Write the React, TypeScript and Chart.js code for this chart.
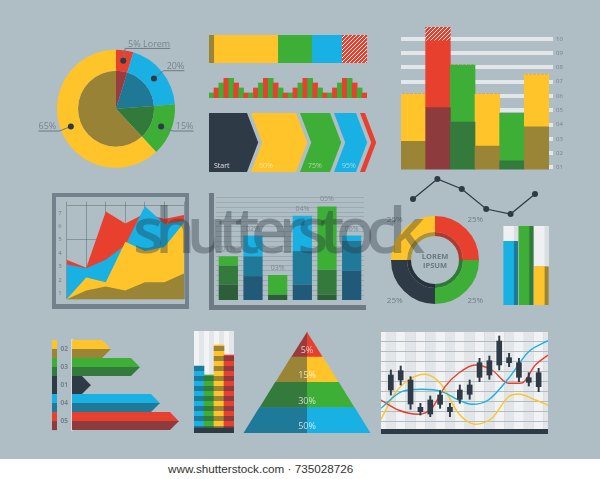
import React, { useEffect, useRef } from "react";
import { Chart, registerables } from "chart.js";

Chart.register(...registerables);

// ---------- palette ----------
const BG = "#AFBDC4";
const YELLOW = "#FFC42A";
const OLIVE = "#9A8436";
const RED = "#E8402E";
const DARKRED = "#8E3B3E";
const BLUE = "#19B1E3";
const DARKBLUE = "#1F7A9A";
const NAVY = "#215A78";
const GREEN = "#3DAE36";
const DARKGREEN = "#357A3D";
const DEEPGREEN = "#2C5E38";
const DARK = "#2E3A46";
const LIGHT = "#EEF0F1";
const FONT = "'Open Sans', 'DejaVu Sans', sans-serif";

// ---------- data ----------
const pieLabels = ["5% Lorem", "20%", "15%", "65%"];
const pieValues = [5, 20, 15, 65];

const stripValues = [3, 40.5, 21.5, 19, 16];

const histValues = [
  1, 2, 3, 4, 4, 3, 2, 1,
  1, 2, 3, 4, 4, 3, 2, 1,
  1, 2, 3, 4, 4, 3, 2, 1,
  1, 2, 3, 4, 4, 3, 2, 1,
];

const chevronLabels = ["Start", "50%", "75%", "95%", ""];
const chevronStart = [4, 46, 95, 129, 155];
const chevronEnd = [42, 91, 125, 151, 160];

const colTickLabels = ["01", "02", "03", "04", "05", "06", "07", "08", "09", "10"];
const colTickValues = [1, 2, 3, 4, 5, 6, 7, 8, 9, 10];
const colLower = [2.83, 5.19, 4.18, 2.49, 1.47, 3.84];
const colUpper = [6.14, 9.86, 8.17, 6.14, 4.79, 7.5];
const colHatch = [0, 10.81, 0, 0, 0, 0];

const lineValues = [4, 9, 6.5, 1.5, 0.25, 5.25];

const donutLabels = ["25%", "25%", "25%", "25%"];
const donutValues = [25, 25, 25, 25];
const donutCenter = ["LOREM", "IPSUM"];

const triValues = [81, 100, 49];

const areaTicks = [1, 2, 3, 4, 5, 6, 7];
const areaLabels = ["a", "b", "c", "d", "e", "f", "g"];
const areaRed = [3.5, 2.9, 7.1, 6.2, 6.95, 6.55, 6.84];
const areaBlue = [3.14, 2.86, 3.5, 4.6, 7.5, 6.16, 6.39];
const areaYellow = [0.55, 2.18, 1.82, 4.84, 4.16, 4.45, 6.27];
const areaOlive = [0.55, 1.2, 1.5, 1.2, 1.82, 1.82, 2.48];

const mbLabels = ["01%", "02%", "03%", "04%", "05%", "06%"];
const mbLow = [15, 23, 5, 15, 5, 28];
const mbMid = [33, 42, 5, 47, 29, 57];
const mbTop = [42, 62, 24, 81, 90, 62];

const arrowLabels = ["02", "03", "01", "04", "05"];
const arrowValues = [39, 68, 19, 88, 107];

const segValues = [62, 53, 83, 73];
const segBase = [5, 5, 5, 5];

const pyramidLabels = ["5%", "15%", "30%", "50%"];
const pyramidWidths = [1, 2, 3, 4];

const candleX = [1, 2, 3, 4, 5, 6, 7, 8, 9, 10, 11, 12, 13, 14, 15, 16];
const candleWickLow = [3.6, 4.6, 2.17, 1.6, 1.43, 2.27, 1.43, 2.77, 3.17, 4.93, 5.17, 6.1, 6.43, 4.93, 4.5, 3.93];
const candleWickHigh = [6.1, 6.5, 5.43, 2.77, 3.5, 4.03, 2.77, 4.6, 5.1, 7.27, 7.5, 9.5, 7.77, 7.27, 5.83, 6.27];
const candleBodyLow = [4.1, 5.1, 2.7, 1.93, 1.7, 2.67, 1.93, 3.17, 3.67, 5.37, 5.6, 6.6, 6.83, 5.37, 4.87, 4.43];
const candleBodyHigh = [5.6, 6.03, 5.1, 2.37, 3.1, 3.6, 2.37, 4.1, 4.6, 6.83, 7.03, 9.0, 7.33, 6.83, 5.33, 5.83];
const candleGrid = [1, 2, 3, 4, 5, 6, 7, 8, 9, 10];

const blueX = [0, 2.1, 4.14, 6.17, 7.86, 9.22, 10.9, 12.95, 14.98, 16.95];
const blueY = [2.27, 3.93, 4.17, 3.93, 3.1, 2.67, 3.1, 5.27, 7.93, 9.03];
const redX = [0, 1.76, 3.8, 5.15, 6.5, 7.86, 9.56, 11.25, 12.95, 14.3, 15.66, 16.95];
const redY = [3.1, 2.1, 1.67, 2.27, 4.43, 5.77, 6.6, 6.1, 4.77, 4.8, 6.6, 7.6];
const yellowX = [0, 1.42, 2.78, 4.47, 6.17, 7.86, 9.56, 11.25, 12.95, 13.97, 15.66, 16.95];
const yellowY = [1.17, 3.77, 5.1, 5.67, 4.6, 1.77, 0.67, 1.27, 3.43, 3.7, 3.1, 2.6];

// ---------- helpers ----------
const noPlug = { legend: { display: false }, tooltip: { enabled: false } };
const baseOpts = { responsive: false, animation: false, events: [] as any[] };

function makeTile(w: number, h: number, draw: (g: CanvasRenderingContext2D) => void) {
  const c = document.createElement("canvas");
  c.width = w;
  c.height = h;
  const g = c.getContext("2d") as CanvasRenderingContext2D;
  draw(g);
  return g.createPattern(c, "repeat") as CanvasPattern;
}
function hatch(color: string) {
  return makeTile(4, 4, (g) => {
    g.fillStyle = color;
    g.fillRect(0, 0, 4, 4);
    g.strokeStyle = "rgba(255,255,255,0.95)";
    g.lineWidth = 1;
    g.beginPath();
    g.moveTo(0, 4); g.lineTo(4, 0);
    g.moveTo(-1, 1); g.lineTo(1, -1);
    g.moveTo(3, 5); g.lineTo(5, 3);
    g.stroke();
  });
}
function hStripes(a: string, b: string) {
  return makeTile(1, 10, (g) => {
    g.fillStyle = a; g.fillRect(0, 0, 1, 5);
    g.fillStyle = b; g.fillRect(0, 5, 1, 5);
  });
}
function vStripes(a: string, b: string) {
  return makeTile(10, 1, (g) => {
    g.fillStyle = a; g.fillRect(0, 0, 5, 1);
    g.fillStyle = b; g.fillRect(5, 0, 5, 1);
  });
}

// ---------- chart configs ----------
function pieConfig(): any {
  const plugin = {
    id: "pieLabels",
    afterDatasetsDraw(chart: any) {
      const ctx = chart.ctx;
      const meta = chart.getDatasetMeta(0);
      meta.data.forEach((arc: any, i: number) => {
        const p = arc.tooltipPosition(true);
        const cx = arc.x, cy = arc.y;
        const dx = p.x - cx, dy = p.y - cy;
        const len = Math.hypot(dx, dy) || 1;
        const ex = p.x + (dx / len) * 12.5;
        const ey = p.y + (dy / len) * 12.5;
        ctx.save();
        ctx.font = `9px ${FONT}`;
        const text = pieLabels[i];
        const tw = ctx.measureText(text).width;
        const right = ex >= cx;
        const endX = right ? ex + tw + 3 : ex - tw - 3;
        ctx.strokeStyle = "#6C7B85";
        ctx.lineWidth = 1;
        ctx.beginPath();
        ctx.moveTo(p.x, p.y);
        ctx.lineTo(ex, ey);
        ctx.lineTo(endX, ey);
        ctx.stroke();
        ctx.fillStyle = "#76868F";
        ctx.textAlign = right ? "right" : "left";
        ctx.textBaseline = "alphabetic";
        ctx.fillText(text, endX, ey - 1.8);
        ctx.fillStyle = DARK;
        ctx.beginPath();
        ctx.arc(p.x, p.y, 3, 0, Math.PI * 2);
        ctx.fill();
        ctx.restore();
      });
    },
  };
  return {
    type: "doughnut",
    data: {
      labels: pieLabels,
      datasets: [
        { data: pieValues, backgroundColor: [RED, BLUE, GREEN, YELLOW], borderWidth: 0, weight: 21 },
        { data: pieValues, backgroundColor: ["#9A3B3D", "#1F7896", "#327A3A", "#988236"], borderWidth: 0, weight: 38 },
      ],
    },
    options: {
      ...baseOpts,
      cutout: 0,
      layout: { padding: { left: 27, right: 35, top: 24.5, bottom: 17 } },
      plugins: noPlug,
    },
    plugins: [plugin],
  };
}

function stripConfig(): any {
  const colors = [OLIVE, YELLOW, GREEN, BLUE, hatch(RED)];
  return {
    type: "bar",
    data: {
      labels: [""],
      datasets: stripValues.map((v, i) => ({ data: [v], backgroundColor: colors[i], borderWidth: 0 })),
    },
    options: {
      ...baseOpts,
      indexAxis: "y",
      datasets: { bar: { barPercentage: 1, categoryPercentage: 1 } },
      scales: {
        x: { display: false, stacked: true, min: 0, max: 100 },
        y: { display: false, stacked: true },
      },
      plugins: noPlug,
    },
  };
}

function histConfig(): any {
  return {
    type: "bar",
    data: {
      labels: histValues.map((_, i) => String(i)),
      datasets: [
        {
          data: histValues,
          backgroundColor: histValues.map((_, i) => (i % 2 === 0 ? GREEN : RED)),
          borderWidth: 0,
          barPercentage: 1,
          categoryPercentage: 1,
        },
      ],
    },
    options: {
      ...baseOpts,
      scales: { x: { display: false }, y: { display: false, min: 0, max: 4 } },
      plugins: noPlug,
    },
  };
}

function chevronConfig(): any {
  const colors = [DARK, YELLOW, GREEN, BLUE, RED];
  const plugin = {
    id: "chevrons",
    afterDatasetsDraw(chart: any) {
      const ctx = chart.ctx;
      chart.data.datasets.forEach((_: any, di: number) => {
        const el = chart.getDatasetMeta(di).data[0];
        const { x, y, base, height } = el.getProps(["x", "y", "base", "height"], true);
        const L = Math.min(x, base), R = Math.max(x, base);
        const top = y - height / 2, bot = y + height / 2;
        const d = height * 0.19;
        ctx.save();
        ctx.fillStyle = colors[di];
        ctx.beginPath();
        ctx.moveTo(L, top);
        ctx.lineTo(R, top);
        ctx.lineTo(R + d, y);
        ctx.lineTo(R, bot);
        ctx.lineTo(L, bot);
        if (di > 0) ctx.lineTo(L + d, y);
        ctx.closePath();
        ctx.fill();
        const label = chevronLabels[di];
        if (label) {
          ctx.font = `7px ${FONT}`;
          ctx.fillStyle = di === 0 ? "rgba(255,255,255,0.85)" : "rgba(255,255,255,0.55)";
          ctx.textAlign = "left";
          ctx.textBaseline = "alphabetic";
          ctx.fillText(label, di === 0 ? L + 5 : L + 8, bot - 4);
        }
        ctx.restore();
      });
    },
  };
  return {
    type: "bar",
    data: {
      labels: [""],
      datasets: chevronStart.map((s, i) => ({
        data: [[s, chevronEnd[i]]],
        backgroundColor: "rgba(0,0,0,0)",
        borderWidth: 0,
      })),
    },
    options: {
      ...baseOpts,
      indexAxis: "y",
      datasets: { bar: { barPercentage: 1, categoryPercentage: 1, grouped: false } },
      scales: { x: { display: false, min: 0, max: 175 }, y: { display: false } },
      plugins: noPlug,
    },
    plugins: [plugin],
  };
}

function columnsConfig(): any {
  const lowColors = [OLIVE, DARKRED, DARKGREEN, OLIVE, DARKGREEN, OLIVE];
  const upColors = [YELLOW, RED, GREEN, YELLOW, GREEN, YELLOW];
  const pat = hatch(RED);
  return {
    type: "bar",
    data: {
      labels: colLower.map((_, i) => String(i)),
      datasets: [
        { data: colLower, backgroundColor: lowColors, borderWidth: 0 },
        { data: colUpper.map((v, i) => v - colLower[i]), backgroundColor: upColors, borderWidth: 0 },
        { data: colHatch.map((v, i) => (v > 0 ? v - colUpper[i] : 0)), backgroundColor: pat, borderWidth: 0 },
      ],
    },
    options: {
      ...baseOpts,
      layout: { padding: { top: 4, bottom: 4 } },
      datasets: { bar: { barPercentage: 1, categoryPercentage: 1 } },
      scales: {
        x: { display: false, stacked: true },
        y: {
          position: "right",
          stacked: true,
          min: 0.865,
          max: 11.28,
          afterBuildTicks: (s: any) => {
            s.ticks = colTickValues.map((v) => ({ value: v }));
          },
          afterFit: (s: any) => {
            s.width = 22;
          },
          border: { display: false },
          grid: { color: "#E3E7EA", lineWidth: 4, tickLength: 4, drawTicks: true },
          ticks: {
            autoSkip: false,
            padding: 3,
            color: "#76848D",
            font: { size: 6, family: FONT },
            callback: (_v: any, i: number) => colTickLabels[i],
          },
        },
      },
      plugins: noPlug,
    },
  };
}

function lineConfig(): any {
  return {
    type: "line",
    data: {
      labels: lineValues.map((_, i) => String(i)),
      datasets: [
        {
          data: lineValues,
          borderColor: DARK,
          borderWidth: 1.2,
          pointRadius: 3,
          pointBackgroundColor: DARK,
          pointBorderWidth: 0,
          clip: false,
          tension: 0,
        },
      ],
    },
    options: {
      ...baseOpts,
      layout: { padding: { left: 8, right: 8, top: 5, bottom: 5 } },
      scales: { x: { display: false }, y: { display: false, min: 0, max: 10 } },
      plugins: noPlug,
    },
  };
}

function donutConfig(): any {
  const plugin = {
    id: "donutLabels",
    afterDatasetsDraw(chart: any) {
      const ctx = chart.ctx;
      const meta = chart.getDatasetMeta(0);
      ctx.save();
      ctx.font = `8px ${FONT}`;
      ctx.fillStyle = "#6E7D87";
      ctx.textAlign = "center";
      ctx.textBaseline = "middle";
      let cx = 0, cy = 0;
      meta.data.forEach((arc: any, i: number) => {
        const p = arc.getProps(["x", "y", "startAngle", "endAngle", "outerRadius"], true);
        const mid = (p.startAngle + p.endAngle) / 2;
        const r = p.outerRadius + 13;
        cx = p.x; cy = p.y;
        ctx.fillText(donutLabels[i], p.x + Math.cos(mid) * r, p.y + Math.sin(mid) * r);
      });
      ctx.font = `bold 7.5px ${FONT}`;
      ctx.fillStyle = "#6A7983";
      ctx.fillText(donutCenter[0], cx, cy - 3);
      ctx.fillText(donutCenter[1], cx, cy + 5.5);
      ctx.restore();
    },
  };
  return {
    type: "doughnut",
    data: {
      labels: donutLabels,
      datasets: [
        { data: donutValues, backgroundColor: [RED, GREEN, DARK, YELLOW], borderWidth: 0, weight: 16 },
        { data: donutValues, backgroundColor: ["#AE3A30", "#2F7B35", "#27323C", "#AE9232"], borderWidth: 0, weight: 4 },
      ],
    },
    options: {
      ...baseOpts,
      cutout: "54.5%",
      layout: { padding: { left: 11, right: 11, top: 4, bottom: 8 } },
      plugins: noPlug,
    },
    plugins: [plugin],
  };
}

function triConfig(): any {
  const main = [BLUE, GREEN, YELLOW];
  const dark = [DARKBLUE, DARKGREEN, OLIVE];
  const plugin = {
    id: "triStrips",
    afterDatasetsDraw(chart: any) {
      const ctx = chart.ctx;
      [0, 1].forEach((di) => {
        chart.getDatasetMeta(di).data.forEach((el: any, i: number) => {
          const { x, y, base, width } = el.getProps(["x", "y", "base", "width"], true);
          ctx.fillStyle = di === 0 ? dark[i] : "#DADEE1";
          ctx.fillRect(x + width / 2 - 4, Math.min(y, base), 4, Math.abs(base - y));
        });
      });
    },
  };
  return {
    type: "bar",
    data: {
      labels: ["a", "b", "c"],
      datasets: [
        { data: triValues, backgroundColor: main, borderWidth: 0 },
        { data: triValues.map((v) => 100 - v), backgroundColor: LIGHT, borderWidth: 0 },
      ],
    },
    options: {
      ...baseOpts,
      datasets: { bar: { barPercentage: 0.95, categoryPercentage: 1 } },
      scales: { x: { display: false, stacked: true }, y: { display: false, stacked: true, min: 0, max: 100 } },
      plugins: noPlug,
    },
    plugins: [plugin],
  };
}

function areaConfig(): any {
  const gridCol = "rgba(84,96,105,0.45)";
  const mk = (data: number[], color: string) => ({
    data,
    backgroundColor: color,
    borderWidth: 0,
    borderColor: color,
    pointRadius: 0,
    fill: "start",
    tension: 0,
  });
  return {
    type: "line",
    data: {
      labels: areaLabels,
      datasets: [mk(areaOlive, OLIVE), mk(areaYellow, YELLOW), mk(areaBlue, BLUE), mk(areaRed, RED)],
    },
    options: {
      ...baseOpts,
      layout: { padding: { top: 4, bottom: 4, right: 1 } },
      scales: {
        x: {
          display: true,
          offset: false,
          z: 1,
          ticks: { display: false },
          grid: { color: gridCol, lineWidth: 1, drawTicks: false },
          border: { display: false },
          afterFit: (s: any) => {
            s.height = 0;
          },
        },
        y: {
          min: 0.54,
          max: 7.84,
          z: 1,
          afterBuildTicks: (s: any) => {
            s.ticks = areaTicks.concat([7.55]).map((v) => ({ value: v }));
          },
          afterFit: (s: any) => {
            s.width = 10.7;
          },
          border: { display: false },
          grid: {
            drawTicks: false,
            color: (c: any) =>
              c.tick && (c.tick.value === 5 || c.tick.value === 7.55) ? gridCol : "rgba(0,0,0,0)",
          },
          ticks: {
            autoSkip: false,
            padding: 5,
            color: "#6F7E88",
            font: { size: 6, family: FONT },
            callback: (v: any) => (Number.isInteger(v) ? String(v) : ""),
          },
        },
      },
      plugins: noPlug,
    },
  };
}

function midBarsConfig(): any {
  const isGreen = mbLabels.map((_, i) => i % 2 === 0);
  const plugin = {
    id: "midLabels",
    afterDatasetsDraw(chart: any) {
      const ctx = chart.ctx;
      ctx.save();
      ctx.font = `7px ${FONT}`;
      ctx.fillStyle = "#7D8A92";
      ctx.textAlign = "center";
      ctx.textBaseline = "alphabetic";
      chart.getDatasetMeta(2).data.forEach((el: any, i: number) => {
        const { x, y } = el.getProps(["x", "y"], true);
        ctx.fillText(mbLabels[i], x, y - 5);
      });
      ctx.restore();
    },
  };
  const gridTicks: number[] = [];
  for (let i = 1; i <= 21; i++) gridTicks.push(i * 4.7);
  return {
    type: "bar",
    data: {
      labels: mbLabels,
      datasets: [
        { data: mbLow, backgroundColor: isGreen.map((g) => (g ? DEEPGREEN : NAVY)), borderWidth: 0 },
        {
          data: mbMid.map((v, i) => v - mbLow[i]),
          backgroundColor: isGreen.map((g) => (g ? DARKGREEN : DARKBLUE)),
          borderWidth: 0,
        },
        {
          data: mbTop.map((v, i) => v - mbMid[i]),
          backgroundColor: isGreen.map((g) => (g ? GREEN : BLUE)),
          borderWidth: 0,
        },
      ],
    },
    options: {
      ...baseOpts,
      layout: { padding: { top: 6 } },
      datasets: { bar: { barPercentage: 0.78, categoryPercentage: 1 } },
      scales: {
        x: { display: false, stacked: true },
        y: {
          stacked: true,
          min: 0,
          max: 100,
          afterBuildTicks: (s: any) => {
            s.ticks = gridTicks.map((v) => ({ value: v }));
          },
          afterFit: (s: any) => {
            s.width = 0;
          },
          ticks: { display: false },
          border: { display: false },
          grid: { drawTicks: false, color: "#97A3AA", lineWidth: 0.8 },
        },
      },
      plugins: noPlug,
    },
    plugins: [plugin],
  };
}

function arrowsConfig(): any {
  const topC = [YELLOW, GREEN, DARK, BLUE, RED];
  const botC = [OLIVE, DARKGREEN, DARK, DARKBLUE, DARKRED];
  const plugin = {
    id: "arrows",
    afterDatasetsDraw(chart: any) {
      const ctx = chart.ctx;
      const area = chart.chartArea;
      chart.getDatasetMeta(0).data.forEach((el: any, i: number) => {
        const { x, y, base, height } = el.getProps(["x", "y", "base", "height"], true);
        const top = y - height / 2, bot = y + height / 2, d = height / 2;
        ctx.fillStyle = topC[i];
        ctx.beginPath();
        ctx.moveTo(base, top);
        ctx.lineTo(x - d, top);
        ctx.lineTo(x, y + 0.3);
        ctx.lineTo(base, y + 0.3);
        ctx.closePath();
        ctx.fill();
        ctx.fillStyle = botC[i];
        ctx.beginPath();
        ctx.moveTo(base, y);
        ctx.lineTo(x, y);
        ctx.lineTo(x - d, bot);
        ctx.lineTo(base, bot);
        ctx.closePath();
        ctx.fill();
        ctx.fillStyle = topC[i];
        ctx.fillRect(area.left - 20, top, 5, height / 2 + 0.3);
        ctx.fillStyle = botC[i];
        ctx.fillRect(area.left - 20, y, 5, height / 2);
      });
    },
  };
  return {
    type: "bar",
    data: {
      labels: arrowLabels,
      datasets: [{ data: arrowValues, backgroundColor: "rgba(0,0,0,0)", borderWidth: 0 }],
    },
    options: {
      ...baseOpts,
      indexAxis: "y",
      layout: { padding: { top: 4, bottom: 4 } },
      datasets: { bar: { barPercentage: 1, categoryPercentage: 1 } },
      scales: {
        x: { display: false, min: 0, max: 113 },
        y: {
          z: 1,
          afterFit: (s: any) => {
            s.width = 32;
          },
          grid: { display: false, drawTicks: false },
          border: { display: true, color: "#D2D8DB", width: 2 },
          ticks: { padding: 4, color: "#75838C", font: { size: 6.5, family: FONT, weight: "bold" } },
        },
      },
      plugins: noPlug,
    },
    plugins: [plugin],
  };
}

function segConfig(): any {
  const pats = [
    hStripes(BLUE, DARKBLUE),
    hStripes(GREEN, DARKGREEN),
    hStripes(YELLOW, OLIVE),
    hStripes(RED, DARKRED),
  ];
  const bgPat = vStripes("#F2F3F4", "#E3E6E8");
  return {
    type: "bar",
    data: {
      labels: ["a", "b", "c", "d"],
      datasets: [
        { data: segBase, backgroundColor: DARK, borderWidth: 0 },
        { data: segValues, backgroundColor: pats, borderWidth: 0 },
        { data: segValues.map((v, i) => 102 - v - segBase[i]), backgroundColor: bgPat, borderWidth: 0 },
      ],
    },
    options: {
      ...baseOpts,
      datasets: { bar: { barPercentage: 1, categoryPercentage: 1 } },
      scales: { x: { display: false, stacked: true }, y: { display: false, stacked: true, min: 0, max: 102 } },
      plugins: noPlug,
    },
  };
}

function pyramidConfig(): any {
  const leftC = ["#9A3A3C", OLIVE, DARKGREEN, DARKBLUE];
  const rightC = [RED, YELLOW, GREEN, BLUE];
  const plugin = {
    id: "pyramid",
    afterDatasetsDraw(chart: any) {
      const ctx = chart.ctx;
      const xs = chart.scales.x;
      const center = xs.getPixelForValue(0);
      [0, 1].forEach((di) => {
        const sign = di === 0 ? -1 : 1;
        chart.getDatasetMeta(di).data.forEach((el: any, i: number) => {
          const { y, height } = el.getProps(["y", "height"], true);
          const prev = i === 0 ? 0 : pyramidWidths[i - 1];
          const topX = xs.getPixelForValue(sign * prev);
          const botX = xs.getPixelForValue(sign * pyramidWidths[i]);
          const top = y - height / 2 - (i > 0 ? 0.4 : 0), bot = y + height / 2;
          ctx.fillStyle = di === 0 ? leftC[i] : rightC[i];
          ctx.beginPath();
          ctx.moveTo(center + (di === 0 ? 0.4 : 0), top);
          ctx.lineTo(topX, top);
          ctx.lineTo(botX, bot);
          ctx.lineTo(center + (di === 0 ? 0.4 : 0), bot);
          ctx.closePath();
          ctx.fill();
        });
      });
      ctx.save();
      ctx.font = `9px ${FONT}`;
      ctx.fillStyle = "rgba(255,255,255,0.72)";
      ctx.textAlign = "center";
      ctx.textBaseline = "middle";
      chart.getDatasetMeta(1).data.forEach((el: any, i: number) => {
        const { y } = el.getProps(["y"], true);
        ctx.fillText(pyramidLabels[i], center, y + 6);
      });
      ctx.restore();
    },
  };
  return {
    type: "bar",
    data: {
      labels: pyramidLabels,
      datasets: [
        { data: pyramidWidths.map((w) => [-w, 0]), backgroundColor: "rgba(0,0,0,0)", borderWidth: 0 },
        { data: pyramidWidths.map((w) => [0, w]), backgroundColor: "rgba(0,0,0,0)", borderWidth: 0 },
      ],
    },
    options: {
      ...baseOpts,
      indexAxis: "y",
      layout: { padding: { left: 3.5, right: 3.5, top: 2, bottom: 2 } },
      datasets: { bar: { barPercentage: 1, categoryPercentage: 1, grouped: false } },
      scales: { x: { display: false, min: -4, max: 4 }, y: { display: false } },
      plugins: noPlug,
    },
    plugins: [plugin],
  };
}

function candleConfig(): any {
  const plugin = {
    id: "stripes",
    beforeDraw(chart: any) {
      const { ctx, chartArea: a } = chart;
      const xs = chart.scales.x;
      ctx.save();
      for (let k = 0; k <= 17; k++) {
        const x0 = Math.max(a.left, xs.getPixelForValue(k - 0.5));
        const x1 = Math.min(a.right, xs.getPixelForValue(k + 0.5));
        if (x1 <= x0) continue;
        ctx.fillStyle = k % 2 === 0 ? "#F1F2F3" : "#E2E6E8";
        ctx.fillRect(x0, a.top, x1 - x0, a.bottom - a.top);
      }
      ctx.restore();
    },
  };
  const curve = (xs: number[], ys: number[], color: string) => ({
    type: "line",
    data: xs.map((x, i) => ({ x, y: ys[i] })),
    borderColor: color,
    borderWidth: 1.4,
    pointRadius: 0,
    fill: false,
    cubicInterpolationMode: "monotone",
    order: 2,
  });
  return {
    type: "bar",
    data: {
      datasets: [
        {
          data: candleX.map((x, i) => ({ x, y: [candleBodyLow[i], candleBodyHigh[i]] })),
          backgroundColor: DARK,
          borderWidth: 0,
          barThickness: 5,
          order: 1,
        },
        {
          data: candleX.map((x, i) => ({ x, y: [candleWickLow[i], candleWickHigh[i]] })),
          backgroundColor: DARK,
          borderWidth: 0,
          barThickness: 1.3,
          order: 1,
        },
        curve(blueX, blueY, BLUE),
        curve(redX, redY, RED),
        curve(yellowX, yellowY, YELLOW),
      ],
    },
    options: {
      ...baseOpts,
      datasets: { bar: { grouped: false } },
      scales: {
        x: { type: "linear", display: false, min: 0, max: 16.95, offset: false, grid: { offset: false } },
        y: {
          min: 0.2,
          max: 10,
          afterBuildTicks: (s: any) => {
            s.ticks = candleGrid.map((v) => ({ value: v }));
          },
          afterFit: (s: any) => {
            s.width = 0;
          },
          ticks: { display: false },
          border: { display: false },
          grid: { drawTicks: false, color: "#B4BCC1", lineWidth: 1 },
        },
      },
      plugins: noPlug,
    },
    plugins: [plugin],
  };
}

// ---------- components ----------
function Panel({ x, y, w, h, make }: { x: number; y: number; w: number; h: number; make: () => any }) {
  const ref = useRef<HTMLCanvasElement | null>(null);
  useEffect(() => {
    if (!ref.current) return;
    const chart = new Chart(ref.current, make());
    return () => chart.destroy();
  }, []);
  return (
    <canvas
      ref={ref}
      width={w}
      height={h}
      style={{ position: "absolute", left: x, top: y, width: w, height: h }}
    />
  );
}

function Block({ x, y, w, h, color }: { x: number; y: number; w: number; h: number; color: string }) {
  return <div style={{ position: "absolute", left: x, top: y, width: w, height: h, background: color }} />;
}

export default function App() {
  return (
    <div
      style={{
        position: "fixed",
        left: 0,
        top: 0,
        width: 600,
        height: 479,
        background: BG,
        overflow: "hidden",
        fontFamily: FONT,
      }}
    >
      {/* area chart frame */}
      <div
        style={{
          position: "absolute",
          left: 52,
          top: 193,
          width: 137,
          height: 116,
          boxSizing: "border-box",
          borderStyle: "solid",
          borderColor: "#72818B",
          borderWidth: "4px 4px 5px 4px",
        }}
      />
      {/* middle bar chart axes */}
      <Block x={209} y={193} w={4.5} h={117} color="#6E7B85" />
      <Block x={209} y={305} w={157} h={4.5} color="#6E7B85" />
      {/* candle base */}
      <Block x={381} y={429} w={167} h={4.5} color={DARK} />

      <Panel x={30} y={25} w={180} h={160} make={pieConfig} />
      <Panel x={209} y={35} w={158} h={28} make={stripConfig} />
      <Panel x={209} y={78} w={158} h={20} make={histConfig} />
      <Panel x={205} y={113} w={175} h={59} make={chevronConfig} />
      <Panel x={401} y={14} w={170} h={162} make={columnsConfig} />
      <Panel x={405} y={170} w={138} h={50} make={lineConfig} />
      <Panel x={380} y={212} w={110} h={100} make={donutConfig} />
      <Panel x={503} y={226} w={46} h={79} make={triConfig} />
      <Panel x={56} y={193} w={129} h={115} make={areaConfig} />
      <Panel x={216} y={190} w={148} h={110} make={midBarsConfig} />
      <Panel x={40} y={332} w={145} h={106} make={arrowsConfig} />
      <Panel x={194} y={331} w={40} h={102} make={segConfig} />
      <Panel x={240} y={330} w={134} h={105} make={pyramidConfig} />
      <Panel x={381} y={331} w={167} h={98} make={candleConfig} />

      {/* watermark */}
      <div
        style={{
          position: "absolute",
          left: 133,
          top: 197,
          fontFamily: "'Open Sans', sans-serif",
          fontWeight: 600,
          fontSize: 63,
          lineHeight: 1,
          letterSpacing: -8.5,
          color: "rgba(40,50,58,0.36)",
          whiteSpace: "nowrap",
          pointerEvents: "none",
        }}
      >
        shutterstock
      </div>

      {/* footer */}
      <div
        style={{
          position: "absolute",
          left: 0,
          top: 459,
          width: 600,
          height: 20,
          background: "#FFFFFF",
        }}
      >
        <span
          style={{
            position: "absolute",
            left: 168,
            top: 0,
            lineHeight: "20px",
            fontSize: 11.7,
            fontFamily: "'Liberation Sans', Arial, sans-serif",
            color: "#333333",
            whiteSpace: "nowrap",
          }}
        >
          www.shutterstock.com · 735028726
        </span>
      </div>
    </div>
  );
}
